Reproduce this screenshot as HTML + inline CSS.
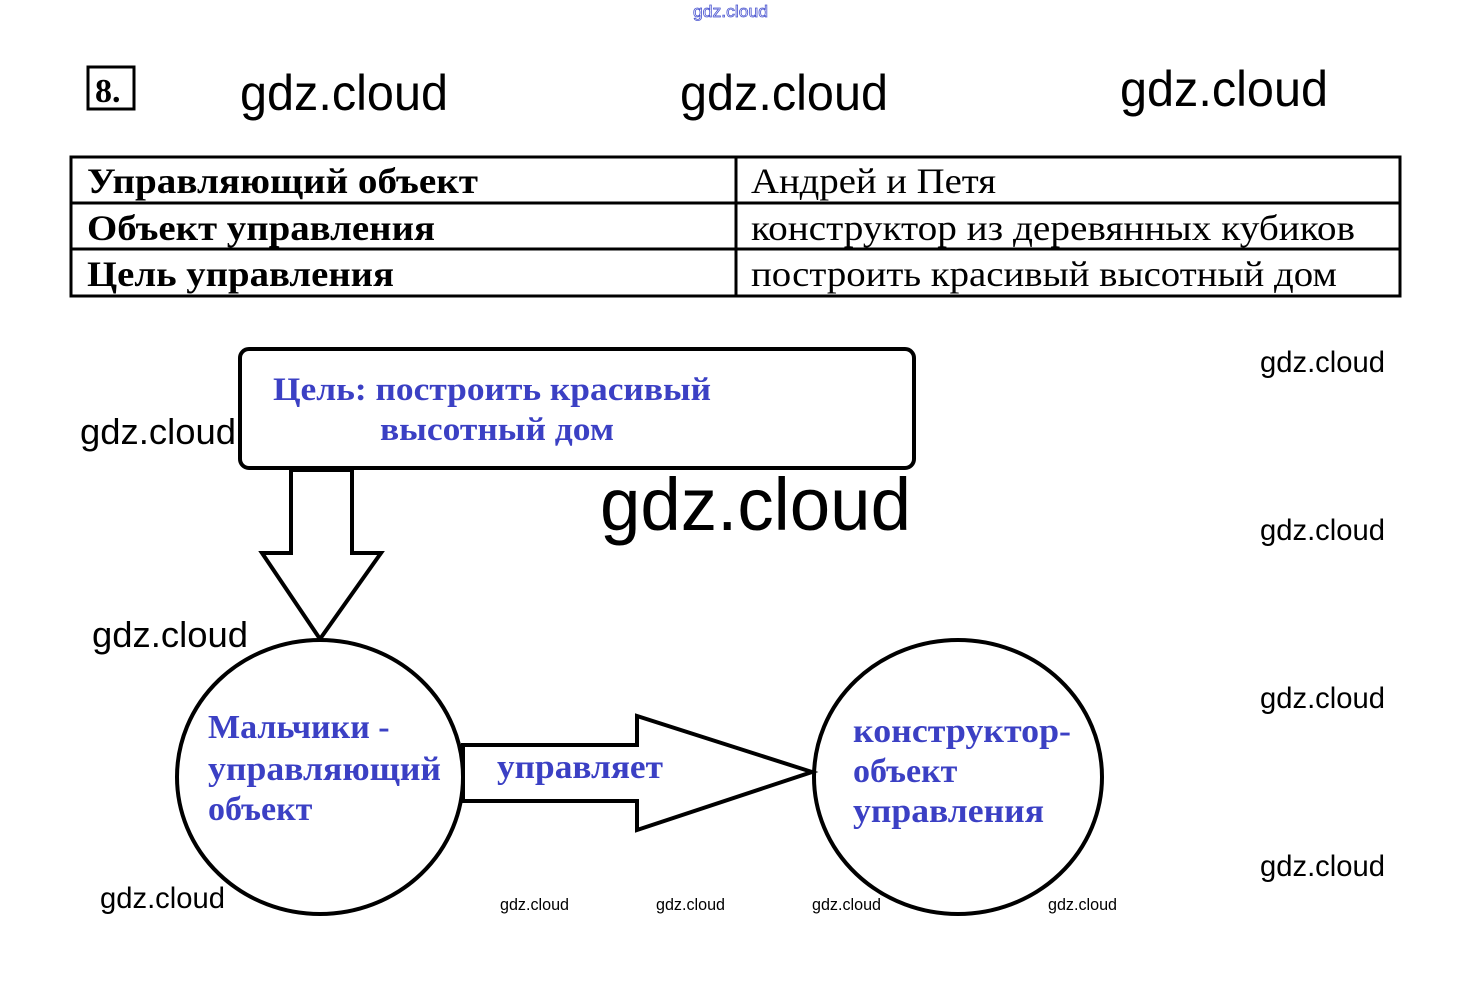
<!DOCTYPE html>
<html><head><meta charset="utf-8"><style>
html,body{margin:0;padding:0;background:#fff;}
svg{display:block;}
.w{font-family:"Liberation Sans",sans-serif;fill:#000;}
.t{font-family:"Liberation Serif","Noto Serif CJK SC",serif;fill:#000;}
.b{font-family:"Liberation Serif","Noto Serif CJK SC",serif;fill:#3b40c4;font-weight:bold;}
</style></head><body>
<svg width="1460" height="981" viewBox="0 0 1460 981" xmlns="http://www.w3.org/2000/svg">
<rect width="1460" height="981" fill="#fff"/>
<text x="693" y="17" font-size="17" textLength="75" lengthAdjust="spacingAndGlyphs" font-family="Liberation Sans, sans-serif" fill="#fff" stroke="#4a55d0" stroke-width="0.8">gdz.cloud</text>
<rect x="88" y="67" width="46" height="42" fill="none" stroke="#000" stroke-width="3"/>
<text x="95" y="102" class="t" font-size="34" font-weight="bold">8.</text>
<text x="240" y="110" class="w" font-size="50" textLength="208" lengthAdjust="spacingAndGlyphs">gdz.cloud</text>
<text x="680" y="110" class="w" font-size="50" textLength="208" lengthAdjust="spacingAndGlyphs">gdz.cloud</text>
<text x="1120" y="106" class="w" font-size="50" textLength="208" lengthAdjust="spacingAndGlyphs">gdz.cloud</text>
<g stroke="#000" stroke-width="3" fill="none">
<rect x="71" y="157" width="1329" height="139"/>
<line x1="71" y1="203" x2="1400" y2="203"/>
<line x1="71" y1="249" x2="1400" y2="249"/>
<line x1="736" y1="157" x2="736" y2="296"/>
</g>
<text x="87" y="193" class="t" font-size="36" font-weight="bold" textLength="391" lengthAdjust="spacingAndGlyphs">Управляющий объект</text>
<text x="87" y="240" class="t" font-size="36" font-weight="bold" textLength="348" lengthAdjust="spacingAndGlyphs">Объект управления</text>
<text x="87" y="286" class="t" font-size="36" font-weight="bold" textLength="307" lengthAdjust="spacingAndGlyphs">Цель управления</text>
<text x="751" y="193" class="t" font-size="36" textLength="245" lengthAdjust="spacingAndGlyphs">Андрей и Петя</text>
<text x="751" y="240" class="t" font-size="36" textLength="604" lengthAdjust="spacingAndGlyphs">конструктор из деревянных кубиков</text>
<text x="751" y="286" class="t" font-size="36" textLength="586" lengthAdjust="spacingAndGlyphs">построить красивый высотный дом</text>
<rect x="240" y="349" width="674" height="119" rx="9" fill="none" stroke="#000" stroke-width="4"/>
<text x="273" y="400" class="b" font-size="33" textLength="438" lengthAdjust="spacingAndGlyphs">Цель: построить красивый</text>
<text x="380" y="440" class="b" font-size="33" textLength="234" lengthAdjust="spacingAndGlyphs">высотный дом</text>
<polygon points="291,470 352,470 352,553 381,553 320,639 262,553 291,553" fill="#fff" stroke="#000" stroke-width="4" stroke-linejoin="miter"/>
<ellipse cx="320" cy="777" rx="143" ry="137" fill="#fff" stroke="#000" stroke-width="4"/>
<ellipse cx="958" cy="777" rx="144" ry="137" fill="#fff" stroke="#000" stroke-width="4"/>
<polygon points="463,745 637,745 637,716 812,772 637,830 637,801 463,801" fill="#fff" stroke="#000" stroke-width="4"/>
<text x="208" y="738" class="b" font-size="34">Мальчики -</text>
<text x="208" y="780" class="b" font-size="34" textLength="233" lengthAdjust="spacingAndGlyphs">управляющий</text>
<text x="208" y="820" class="b" font-size="34">объект</text>
<text x="497" y="778" class="b" font-size="34" textLength="166" lengthAdjust="spacingAndGlyphs">управляет</text>
<text x="853" y="742" class="b" font-size="34" textLength="218" lengthAdjust="spacingAndGlyphs">конструктор-</text>
<text x="853" y="782" class="b" font-size="34">объект</text>
<text x="853" y="822" class="b" font-size="34" textLength="191" lengthAdjust="spacingAndGlyphs">управления</text>
<text x="600" y="530" class="w" font-size="74" textLength="311" lengthAdjust="spacingAndGlyphs">gdz.cloud</text>
<text x="80" y="444" class="w" font-size="36" textLength="156" lengthAdjust="spacingAndGlyphs">gdz.cloud</text>
<text x="92" y="647" class="w" font-size="36" textLength="156" lengthAdjust="spacingAndGlyphs">gdz.cloud</text>
<text x="100" y="908" class="w" font-size="30" textLength="125" lengthAdjust="spacingAndGlyphs">gdz.cloud</text>
<text x="1260" y="372" class="w" font-size="30" textLength="125" lengthAdjust="spacingAndGlyphs">gdz.cloud</text>
<text x="1260" y="540" class="w" font-size="30" textLength="125" lengthAdjust="spacingAndGlyphs">gdz.cloud</text>
<text x="1260" y="708" class="w" font-size="30" textLength="125" lengthAdjust="spacingAndGlyphs">gdz.cloud</text>
<text x="1260" y="876" class="w" font-size="30" textLength="125" lengthAdjust="spacingAndGlyphs">gdz.cloud</text>
<text x="500" y="910" class="w" font-size="17" textLength="69" lengthAdjust="spacingAndGlyphs">gdz.cloud</text>
<text x="656" y="910" class="w" font-size="17" textLength="69" lengthAdjust="spacingAndGlyphs">gdz.cloud</text>
<text x="812" y="910" class="w" font-size="17" textLength="69" lengthAdjust="spacingAndGlyphs">gdz.cloud</text>
<text x="1048" y="910" class="w" font-size="17" textLength="69" lengthAdjust="spacingAndGlyphs">gdz.cloud</text>
</svg>
</body></html>
